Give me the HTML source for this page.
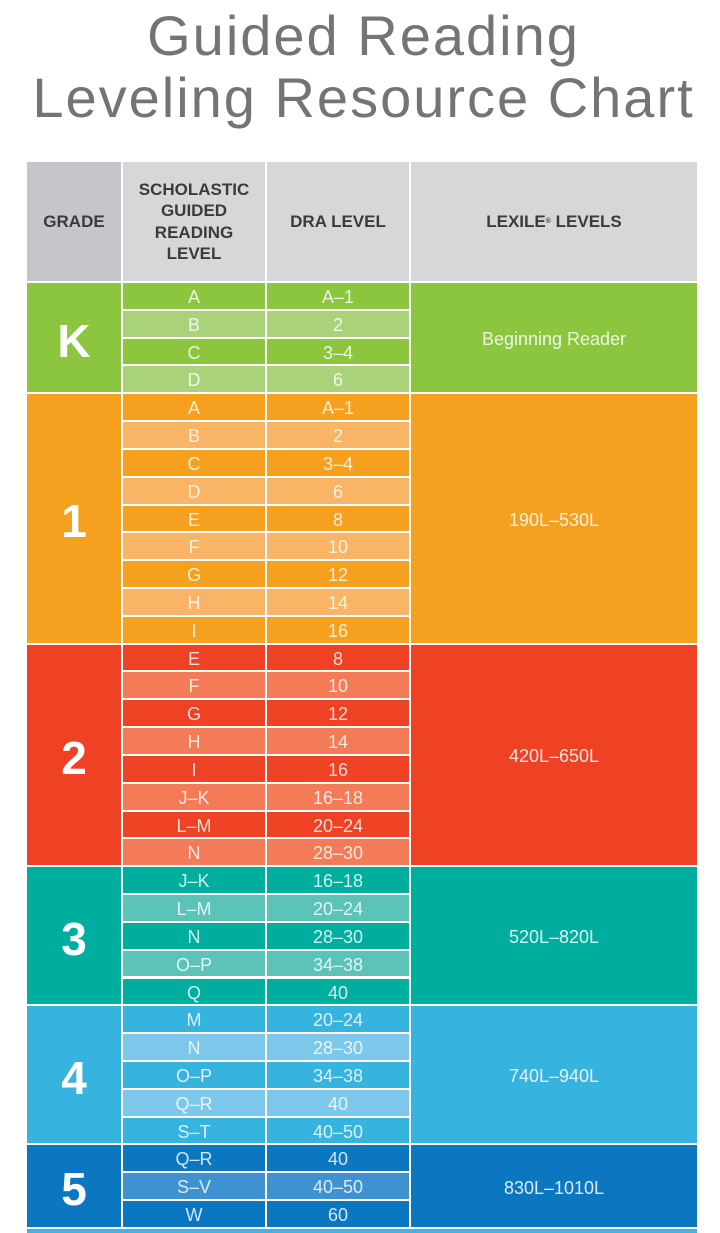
<!DOCTYPE html>
<html>
<head>
<meta charset="utf-8">
<style>
html,body{margin:0;padding:0;background:#fff;}
body{width:720px;height:1230px;position:relative;overflow:hidden;font-family:"Liberation Sans",Arial,sans-serif;}
.t{position:absolute;left:0;width:720px;text-align:center;font-size:56px;line-height:56px;color:#737477;letter-spacing:2px;padding-left:7px;box-sizing:border-box;white-space:nowrap;}
.h{position:absolute;top:162px;height:119px;background:#d6d7d9;display:flex;align-items:center;justify-content:center;text-align:center;font-weight:bold;font-size:17px;line-height:21.3px;color:#3b3b3c;}
.r{position:absolute;height:25.8px;top:calc(283px + var(--i) * 27.82px);line-height:25.8px;font-size:18px;text-align:center;color:rgba(255,255,255,.82);padding-top:2px;box-sizing:border-box;white-space:nowrap;}
.g{left:123px;width:142px;}
.d{left:267px;width:142px;}
.b{position:absolute;top:calc(283px + var(--s) * 27.82px);height:calc(var(--n) * 27.82px - 2.02px);display:flex;align-items:center;justify-content:center;box-sizing:border-box;}
.gr{left:27px;width:94px;font-size:46px;font-weight:bold;color:#fff;padding-top:6px;}
.lx{left:411px;width:286px;font-size:18px;color:rgba(255,255,255,.85);padding-top:4px;}
.k0{background:#8cc63f}.k1{background:#a9d27b}
.o0{background:#f6a01f}.o1{background:#f9b466}
.e0{background:#ef4123}.e1{background:#f37b57}
.c0{background:#00ae9f}.c1{background:#5cc3b8}
.l0{background:#37b3e0}.l1{background:#7dc8ea}
.u0{background:#0a77c0}.u1{background:#3e92d2}
</style>
</head>
<body>
<div class="t" style="top:7.6px;">Guided Reading</div>
<div class="t" style="top:69.6px;">Leveling Resource Chart</div>

<div class="h" style="left:27px;width:94px;background:#c5c6c9;">GRADE</div>
<div class="h" style="left:123px;width:142px;">SCHOLASTIC<br>GUIDED<br>READING<br>LEVEL</div>
<div class="h" style="left:267px;width:142px;">DRA LEVEL</div>
<div class="h" style="left:411px;width:286px;">LEXILE<sup style="font-size:7px;vertical-align:7px;">®</sup>&nbsp;LEVELS</div>

<!-- K -->
<div class="b gr k0" style="--s:0;--n:4;">K</div>
<div class="b lx k0" style="--s:0;--n:4;">Beginning Reader</div>
<div class="r g k0" style="--i:0">A</div><div class="r d k0" style="--i:0">A–1</div>
<div class="r g k1" style="--i:1">B</div><div class="r d k1" style="--i:1">2</div>
<div class="r g k0" style="--i:2">C</div><div class="r d k0" style="--i:2">3–4</div>
<div class="r g k1" style="--i:3">D</div><div class="r d k1" style="--i:3">6</div>

<!-- 1 -->
<div class="b gr o0" style="--s:4;--n:9;">1</div>
<div class="b lx o0" style="--s:4;--n:9;">190L–530L</div>
<div class="r g o0" style="--i:4">A</div><div class="r d o0" style="--i:4">A–1</div>
<div class="r g o1" style="--i:5">B</div><div class="r d o1" style="--i:5">2</div>
<div class="r g o0" style="--i:6">C</div><div class="r d o0" style="--i:6">3–4</div>
<div class="r g o1" style="--i:7">D</div><div class="r d o1" style="--i:7">6</div>
<div class="r g o0" style="--i:8">E</div><div class="r d o0" style="--i:8">8</div>
<div class="r g o1" style="--i:9">F</div><div class="r d o1" style="--i:9">10</div>
<div class="r g o0" style="--i:10">G</div><div class="r d o0" style="--i:10">12</div>
<div class="r g o1" style="--i:11">H</div><div class="r d o1" style="--i:11">14</div>
<div class="r g o0" style="--i:12">I</div><div class="r d o0" style="--i:12">16</div>

<!-- 2 -->
<div class="b gr e0" style="--s:13;--n:8;">2</div>
<div class="b lx e0" style="--s:13;--n:8;">420L–650L</div>
<div class="r g e0" style="--i:13">E</div><div class="r d e0" style="--i:13">8</div>
<div class="r g e1" style="--i:14">F</div><div class="r d e1" style="--i:14">10</div>
<div class="r g e0" style="--i:15">G</div><div class="r d e0" style="--i:15">12</div>
<div class="r g e1" style="--i:16">H</div><div class="r d e1" style="--i:16">14</div>
<div class="r g e0" style="--i:17">I</div><div class="r d e0" style="--i:17">16</div>
<div class="r g e1" style="--i:18">J–K</div><div class="r d e1" style="--i:18">16–18</div>
<div class="r g e0" style="--i:19">L–M</div><div class="r d e0" style="--i:19">20–24</div>
<div class="r g e1" style="--i:20">N</div><div class="r d e1" style="--i:20">28–30</div>

<!-- 3 -->
<div class="b gr c0" style="--s:21;--n:5;">3</div>
<div class="b lx c0" style="--s:21;--n:5;">520L–820L</div>
<div class="r g c0" style="--i:21">J–K</div><div class="r d c0" style="--i:21">16–18</div>
<div class="r g c1" style="--i:22">L–M</div><div class="r d c1" style="--i:22">20–24</div>
<div class="r g c0" style="--i:23">N</div><div class="r d c0" style="--i:23">28–30</div>
<div class="r g c1" style="--i:24">O–P</div><div class="r d c1" style="--i:24">34–38</div>
<div class="r g c0" style="--i:25">Q</div><div class="r d c0" style="--i:25">40</div>

<!-- 4 -->
<div class="b gr l0" style="--s:26;--n:5;">4</div>
<div class="b lx l0" style="--s:26;--n:5;">740L–940L</div>
<div class="r g l0" style="--i:26">M</div><div class="r d l0" style="--i:26">20–24</div>
<div class="r g l1" style="--i:27">N</div><div class="r d l1" style="--i:27">28–30</div>
<div class="r g l0" style="--i:28">O–P</div><div class="r d l0" style="--i:28">34–38</div>
<div class="r g l1" style="--i:29">Q–R</div><div class="r d l1" style="--i:29">40</div>
<div class="r g l0" style="--i:30">S–T</div><div class="r d l0" style="--i:30">40–50</div>

<!-- 5 -->
<div class="b gr u0" style="--s:31;--n:3;">5</div>
<div class="b lx u0" style="--s:31;--n:3;">830L–1010L</div>
<div class="r g u0" style="--i:31">Q–R</div><div class="r d u0" style="--i:31">40</div>
<div class="r g u1" style="--i:32">S–V</div><div class="r d u1" style="--i:32">40–50</div>
<div class="r g u0" style="--i:33">W</div><div class="r d u0" style="--i:33">60</div>

<!-- next block strip -->
<div style="position:absolute;left:27px;width:670px;top:1229px;height:4px;background:#3db5e3;"></div>
</body>
</html>
